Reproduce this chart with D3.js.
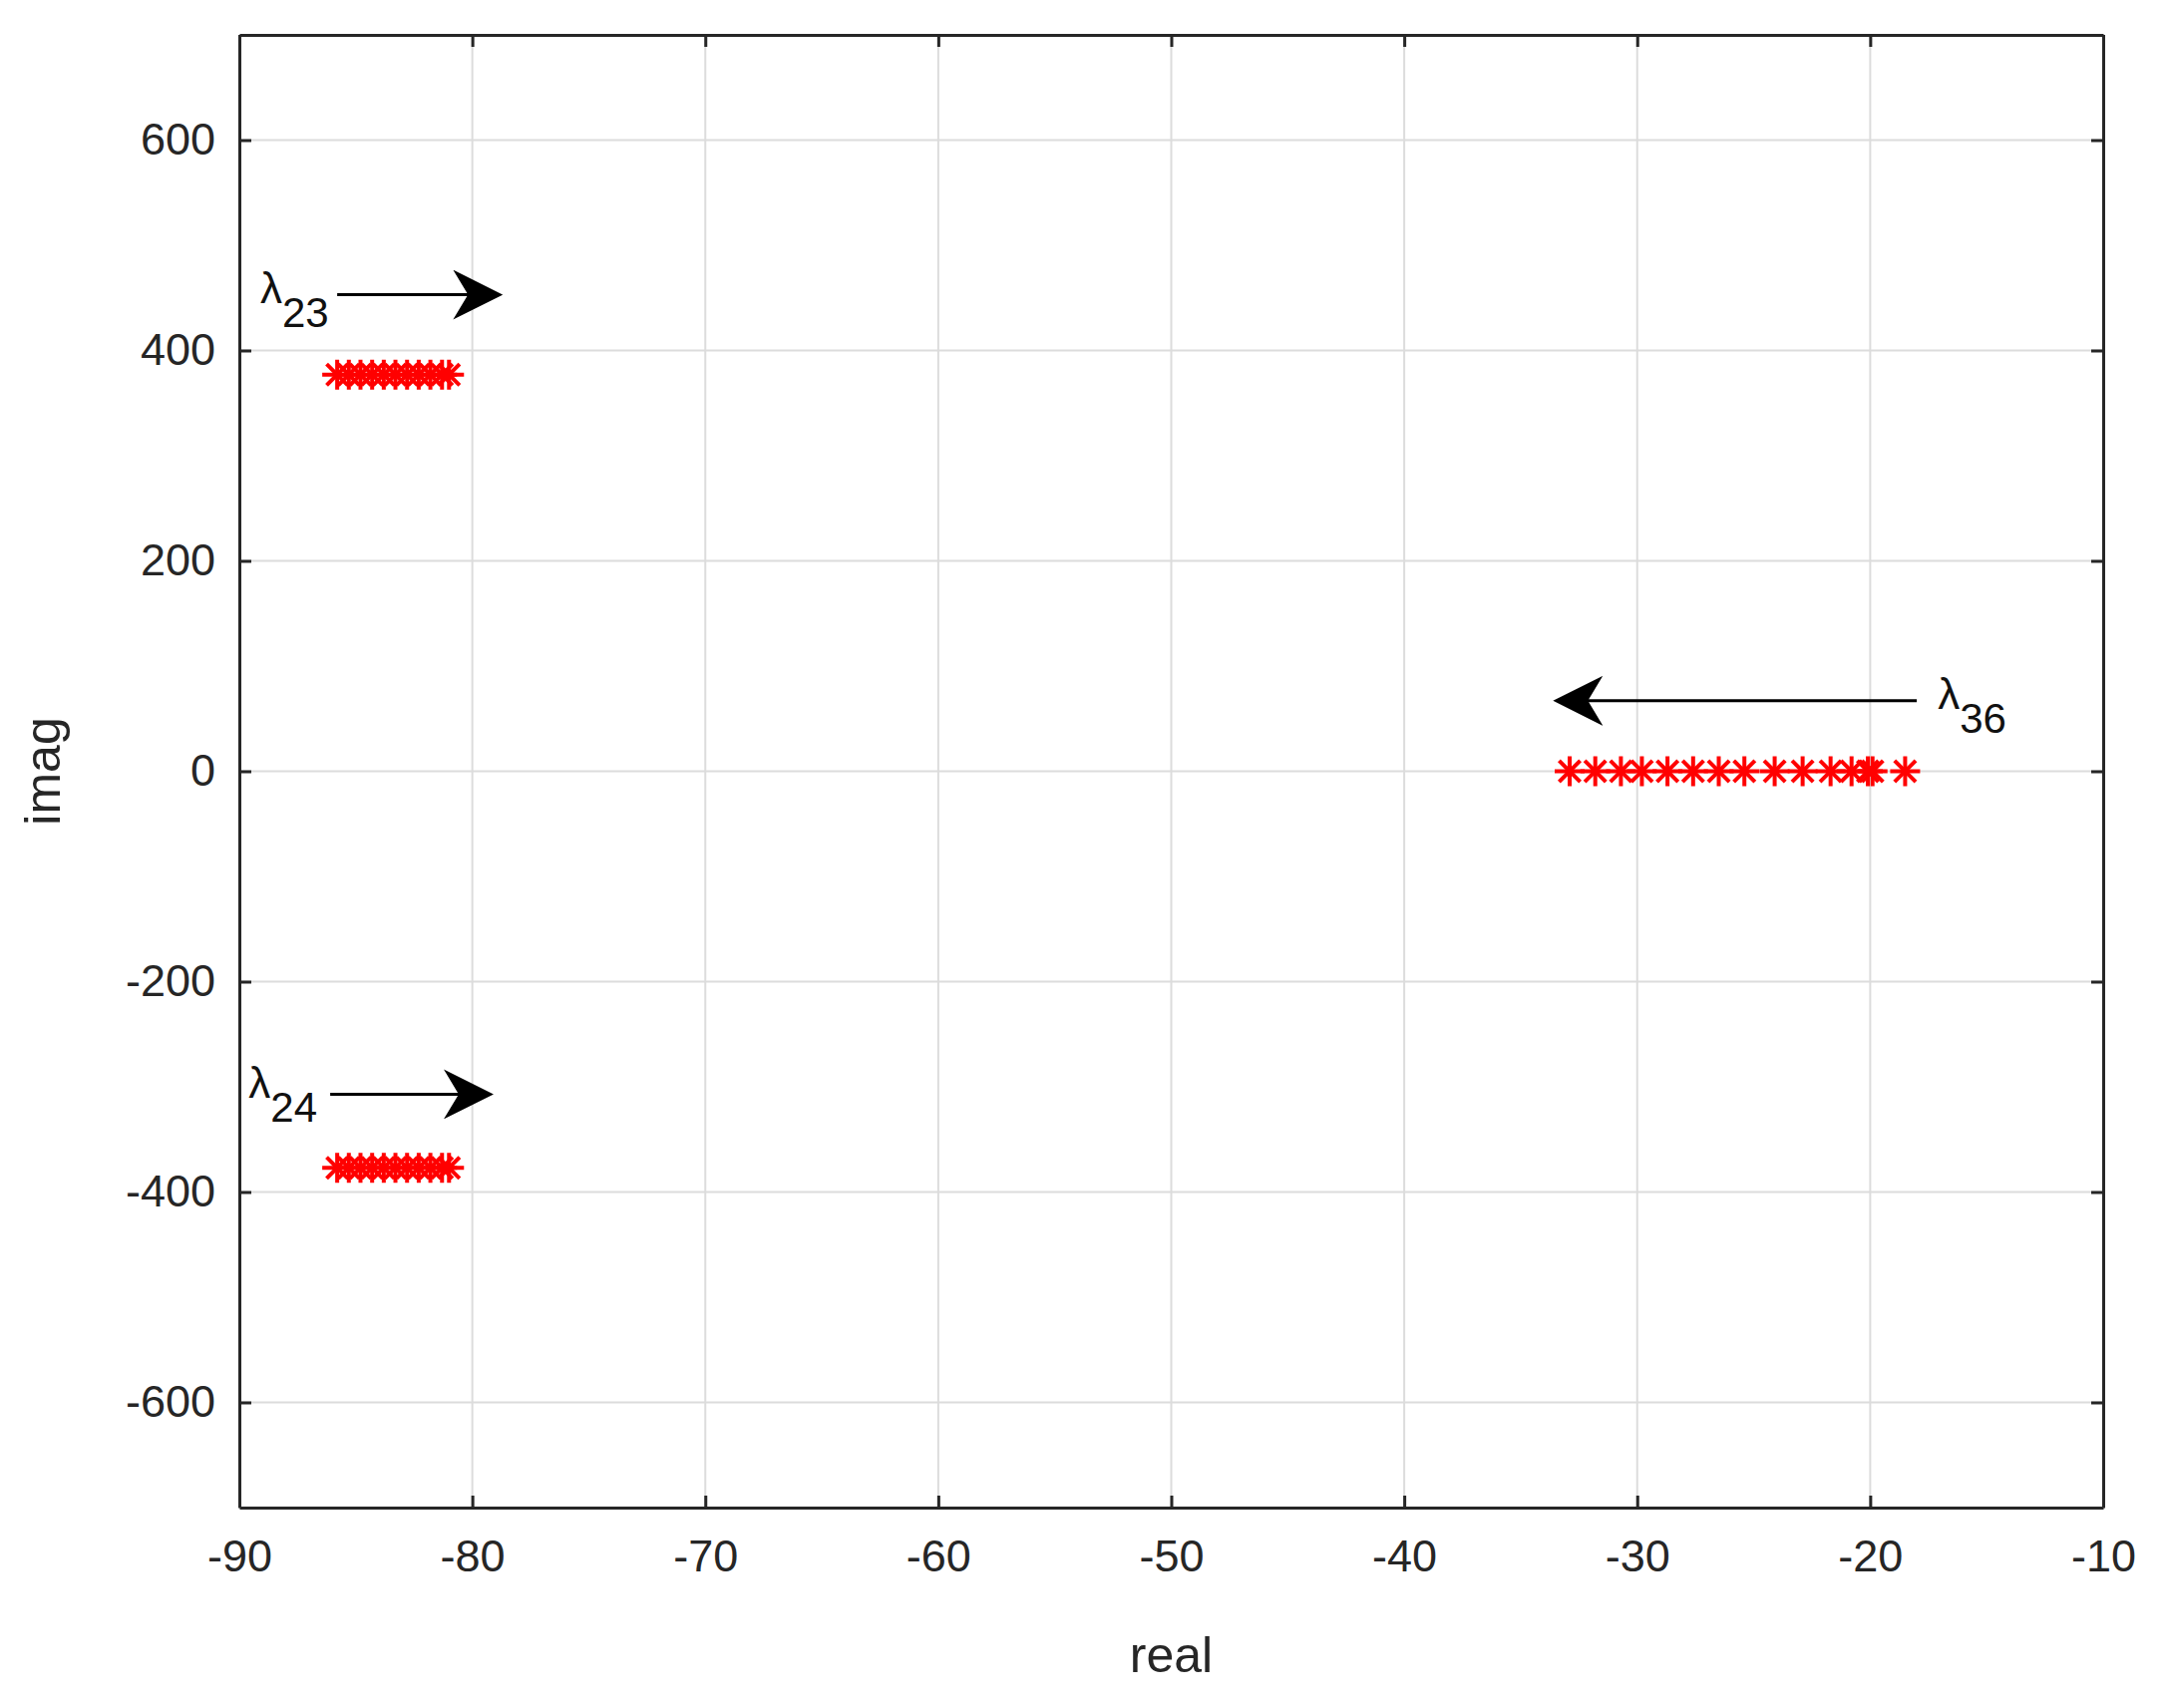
<!DOCTYPE html>
<html><head><meta charset="utf-8">
<script src="https://cdn.jsdelivr.net/npm/d3@7"></script>
<style>body{margin:0;background:#fff}text{font-family:"Liberation Sans",Arial,sans-serif}</style>
</head><body>
<svg id="chart" width="2171" height="1713"></svg>
<script>
var xTicks = [-90,-80,-70,-60,-50,-40,-30,-20,-10]
var yTicks = [-600,-400,-200,0,200,400,600]
var lam23Re = [-85.8,-85.3,-84.8,-84.3,-83.8,-83.3,-82.8,-82.3,-81.8,-81.3,-81.0]
var lam23Im = [377,377,377,377,377,377,377,377,377,377,377]
var lam24Re = [-85.8,-85.3,-84.8,-84.3,-83.8,-83.3,-82.8,-82.3,-81.8,-81.3,-81.0]
var lam24Im = [-377,-377,-377,-377,-377,-377,-377,-377,-377,-377,-377]
var lam36Re = [-32.9,-31.8,-30.7,-29.8,-28.7,-27.6,-26.5,-25.4,-24.1,-22.9,-21.7,-20.8,-20.1,-19.9,-18.5]
var lam36Im = [0,0,0,0,0,0,0,0,0,0,0,0,0,0,0]
var arrows = [
  {name:"23", x1:-85.8, y1:453, x2:-78.9, y2:453},
  {name:"24", x1:-86.1, y1:-307, x2:-79.3, y2:-307},
  {name:"36", x1:-18.0, y1:67, x2:-33.4, y2:67}
]

var margin = {top: 35, right: 62, bottom: 201, left: 240},
width = 2171 - margin.left - margin.right,
height = 1713 - margin.top - margin.bottom;
var svg = d3.select("#chart").append("g")
  .attr("transform","translate(" + margin.left + "," + margin.top + ")")
var x = d3.scaleLinear().domain([-90,-10]).range([0,width])
var y = d3.scaleLinear().domain([-700,700]).range([height,0])
var fmt = d => String(d)

// grid
svg.selectAll(".gx").data(xTicks).enter().append("line")
  .attr("x1",d=>x(d)).attr("x2",d=>x(d)).attr("y1",0).attr("y2",height)
  .style("stroke","#dcdcdc").style("stroke-width",2)
svg.selectAll(".gy").data(yTicks).enter().append("line")
  .attr("y1",d=>y(d)).attr("y2",d=>y(d)).attr("x1",0).attr("x2",width)
  .style("stroke","#dcdcdc").style("stroke-width",2)

var xa = svg.append("g").attr("transform","translate(0,"+height+")")
  .call(d3.axisBottom(x).tickValues(xTicks).tickFormat(fmt).tickSize(-12).tickPadding(32).tickSizeOuter(0))
var xa2 = svg.append("g").call(d3.axisTop(x).tickValues(xTicks).tickSize(-12).tickFormat("").tickSizeOuter(0))
var ya = svg.append("g")
  .call(d3.axisLeft(y).tickValues(yTicks).tickFormat(fmt).tickSize(-12).tickPadding(24).tickSizeOuter(0))
var ya2 = svg.append("g").attr("transform","translate("+width+",0)")
  .call(d3.axisRight(y).tickValues(yTicks).tickSize(-12).tickFormat("").tickSizeOuter(0))
;[xa,xa2,ya,ya2].forEach(function(a){
  a.selectAll("line,path").style("stroke","#262626").style("stroke-width",3)
  a.selectAll("text").style("font-size","45px").style("fill","#262626")
})

svg.append("text").attr("x",width/2).attr("y",height+165).attr("text-anchor","middle")
  .style("font-size","50px").style("fill","#262626").text("real")
svg.append("text").attr("transform","translate(-180,"+(height/2)+") rotate(-90)").attr("text-anchor","middle")
  .style("font-size","50px").style("fill","#262626").text("imag")

// stars
function star(g){
  var r = 15
  ;[0,45,90,135].forEach(function(a){
    var rad = a*Math.PI/180
    g.append("line").attr("x1",-r*Math.cos(rad)).attr("y1",-r*Math.sin(rad))
      .attr("x2",r*Math.cos(rad)).attr("y2",r*Math.sin(rad))
      .style("stroke","#ff0000").style("stroke-width",4)
  })
}
;[[lam23Re,lam23Im],[lam24Re,lam24Im],[lam36Re,lam36Im]].forEach(function(s){
  var pts = s[0].map((v,i)=>({re:v, im:s[1][i]}))
  svg.selectAll(null).data(pts).enter().append("g")
    .attr("transform",d=>"translate("+x(d.re)+","+y(d.im)+")")
    .each(function(){ star(d3.select(this)) })
})

// arrows
svg.append("defs").append("marker").attr("id","head").attr("viewBox","0 0 10 10")
  .attr("refX",9).attr("refY",5)
  .attr("markerUnits","userSpaceOnUse").attr("orient","auto")
  .attr("markerWidth",50).attr("markerHeight",50)
  .append("path").attr("d","M0,0 L10,5 L0,10 L3,5 Z").style("fill","#000")
svg.selectAll(".arr").data(arrows).enter().append("line")
  .attr("x1",d=>x(d.x1)).attr("y1",d=>y(d.y1)).attr("x2",d=>x(d.x2)).attr("y2",d=>y(d.y2))
  .style("stroke","#000").style("stroke-width",3).attr("marker-end","url(#head)")

var labs = [{n:"23",re:-89.1,im:453},{n:"24",re:-89.6,im:-303},{n:"36",re:-17.1,im:67}]
labs.forEach(function(l){
  var t = svg.append("text").attr("x",x(l.re)).attr("y",y(l.im)+8)
    .style("font-size","44px").style("fill","#111")
  t.append("tspan").text("λ")
  t.append("tspan").attr("dy",24).style("font-size","42px").text(l.n)
})
</script>
</body></html>
